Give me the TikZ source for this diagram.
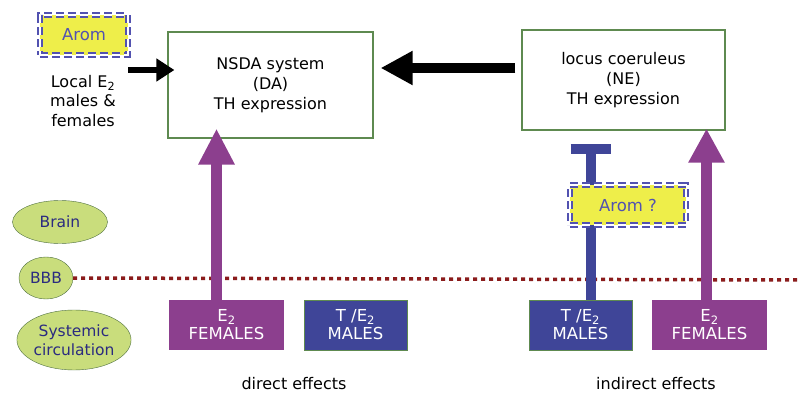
\documentclass[tikz,border=0pt]{standalone}
\usepackage{fontspec}
\setmainfont{DejaVu Sans}
\usetikzlibrary{arrows.meta,shapes.geometric}
\definecolor{boxgreen}{HTML}{5E8A50}
\definecolor{femalepurple}{HTML}{8C3F8E}
\definecolor{maleblue}{HTML}{3F4598}
\definecolor{aromyellow}{HTML}{EEEE4A}
\definecolor{aromblue}{HTML}{5252B0}
\definecolor{ellfill}{HTML}{C9DD7C}
\definecolor{ellline}{HTML}{4F7040}
\definecolor{ellink}{HTML}{2B2B80}
\definecolor{bbbred}{HTML}{8B1C1C}
\tikzset{
	nucleus/.style={draw=boxgreen, line width=1.2pt, align=center,
			font=\fontsize{16}{20}\selectfont},
	hormone/.style={minimum height=50pt, align=center, text=white, inner sep=1pt,
			font=\fontsize{16.5}{18}\selectfont},
	compartment/.style={ellipse, draw=ellline, fill=ellfill, inner sep=0pt,
			align=center, text=ellink, font=\fontsize{15.5}{19}\selectfont},
	aromatase/.style={fill=aromyellow, text=aromblue, inner sep=0pt,
			font=\fontsize{16.5}{18}\selectfont,
			postaction={draw=aromblue, line width=2pt, double=white,
					double distance=2.5pt, dash pattern=on 8pt off 4pt}},
	caption/.style={font=\fontsize{16}{18}\selectfont}
}

\begin{document}
\begin{tikzpicture}[x=1pt, y=-1pt]
		\useasboundingbox (0,0) rectangle (801,396);

		% Nuclei
		\node[nucleus, minimum width=205pt, minimum height=106pt] (nsda) at (270.5,85)
			{NSDA system\\(DA)\\TH expression};
		\node[nucleus, minimum width=203pt, minimum height=100pt] (lc) at (623.5,80)
			{locus coeruleus\\(NE)\\TH expression};

		% Compartments
		\node[compartment, minimum width=95pt, minimum height=43pt] (brain) at (60,222) {Brain};
		\node[compartment, minimum width=54pt, minimum height=42pt] (bbb) at (46,278) {BBB};
		\node[compartment, minimum width=110pt, minimum height=60pt] (blood) at (74,340)
			{Systemic\\circulation};
		\coordinate (bbbend) at (801,280);
		\draw[bbbred, line width=3.5pt, dash pattern=on 4pt off 4pt] (bbb.east) -- (bbbend);

		% Hormone sources
		\node[hormone, fill=femalepurple, minimum width=115pt] (lfem) at (226.5,325)
			{E\textsubscript{2}\\FEMALES};
		\node[hormone, fill=maleblue, draw=boxgreen, minimum width=103pt] (lmale) at (355.5,325)
			{T /E\textsubscript{2}\\MALES};
		\node[hormone, fill=maleblue, draw=boxgreen, minimum width=103pt] (rmale) at (580.5,325)
			{T /E\textsubscript{2}\\MALES};
		\node[hormone, fill=femalepurple, minimum width=115pt] (rfem) at (709.5,325)
			{E\textsubscript{2}\\FEMALES};

		% Effects
		\draw[femalepurple, line width=11pt, -{Triangle[width=34pt,length=36pt]}]
			([xshift=-10pt]lfem.north) -- ([xshift=-10pt,yshift=10pt]lfem.north |- nsda.south);
		\draw[femalepurple, line width=11pt, -{Triangle[width=34pt,length=34pt]}]
			([xshift=-3pt]rfem.north) -- ([xshift=-3pt,yshift=2pt]rfem.north |- lc.south);
		\draw[maleblue, line width=10pt, -{Bar[width=40pt]}]
			([xshift=10pt]rmale.north) -- ([xshift=10pt,yshift=-13pt]rmale.north |- lc.south);
		\draw[black, line width=10pt, -{Triangle[width=32pt,length=32pt]}]
			([xshift=-6pt,yshift=12pt]lc.west) -- ([xshift=7pt,yshift=17pt]nsda.east);

		% Aromatase
		\node[aromatase, minimum width=116pt, minimum height=40pt] (aromlc) at (628,205) {Arom ?};
		\node[aromatase, minimum width=88pt, minimum height=40pt] (aromloc) at (84,35) {Arom};
		\node[align=center, font=\fontsize{16}{19.5}\selectfont] (local) at (83,101)
			{Local E\textsubscript{2}\\males \&\\females};
		\coordinate (localtail) at (128,70);
		\draw[black, line width=6pt, -{Triangle[width=22pt,length=18pt]}]
			(localtail) -- ([xshift=7pt,yshift=15pt]nsda.west);

		% Labels
		\node[caption] (direct) at (294,384) {direct effects};
		\node[caption] (indirect) at (656,384) {indirect effects};
	\end{tikzpicture}
\end{document}
